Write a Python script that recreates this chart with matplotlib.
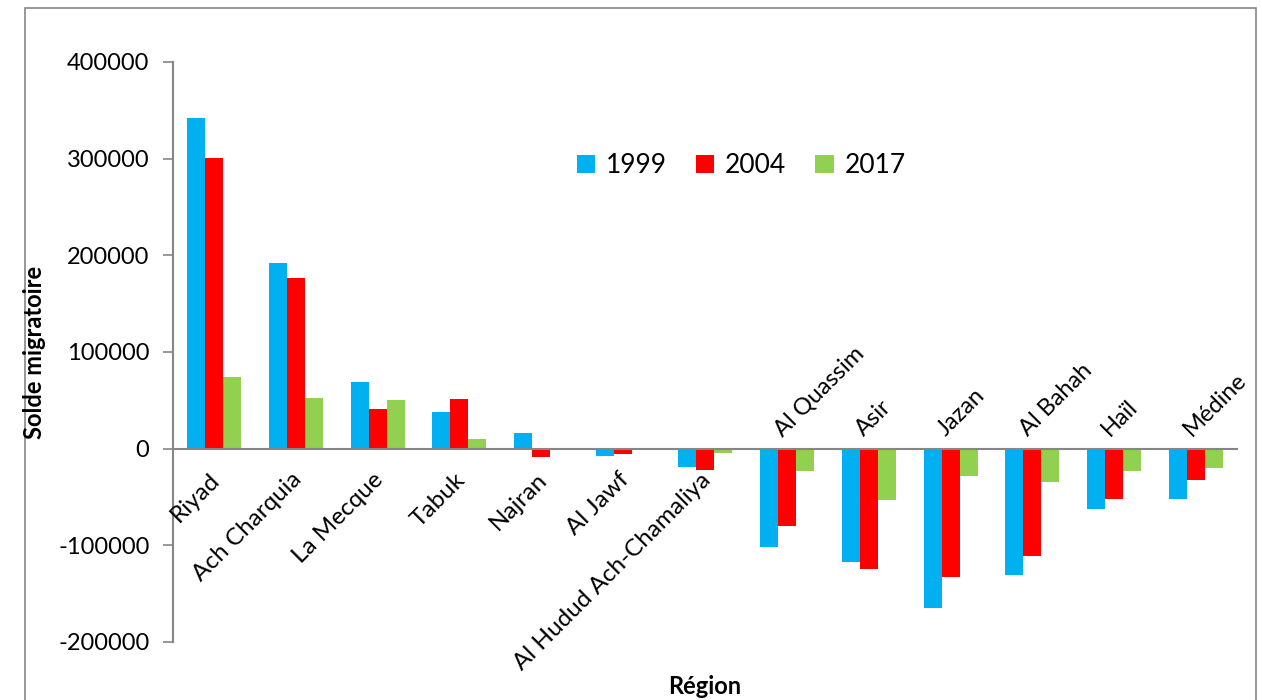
import numpy as np
import matplotlib.pyplot as plt
from matplotlib.patches import Rectangle

plt.rcParams['font.family'] = ['Lato', 'DejaVu Sans']
plt.rcParams['axes.unicode_minus'] = False

regions = ["Riyad", "Ach Charquia", "La Mecque", "Tabuk", "Najran", "Al Jawf",
           "Al Hudud Ach-Chamaliya", "Al Quassim", "Asir", "Jazan", "Al Bahah",
           "Haïl", "Médine"]
v1999 = [342000, 192000, 69000, 38000, 16500, -7200, -18600,
         -101300, -117100, -165000, -130900, -62400, -52000]
v2004 = [301000, 176500, 41300, 51500, -8300, -5200, -21700,
         -80300, -124400, -132300, -110600, -52000, -32000]
v2017 = [74500, 52500, 50500, 10000, 0, 0, -4100,
         -23400, -52700, -27900, -34500, -23100, -19600]

colors = ["#00B0F0", "#FF0000", "#92D050"]
years = ["1999", "2004", "2017"]

fig = plt.figure(figsize=(12.62, 7), dpi=100)
ax = fig.add_axes([173/1262, 58/700, (1237-173)/1262, (642-62)/700])

x = np.arange(len(regions))
w = 0.22
for i, (vals, c, lab) in enumerate(zip([v1999, v2004, v2017], colors, years)):
    ax.bar(x + (i - 1) * w, vals, w, color=c, label=lab)

ax.set_xlim(-0.5, len(regions) - 0.5)
ax.set_ylim(-200000, 400000)
ax.set_yticks(np.arange(-200000, 400001, 100000))
ax.tick_params(axis='y', labelsize=17, direction='out', length=7, width=1.2,
               color='#868686', pad=10)
ax.set_xticks([])
for s in ['top', 'right']:
    ax.spines[s].set_visible(False)
ax.spines['left'].set_color('#868686')
ax.spines['left'].set_linewidth(1.5)
ax.spines['bottom'].set_position(('data', 0))
ax.spines['bottom'].set_color('#868686')
ax.spines['bottom'].set_linewidth(1.5)

# labels below the zero line for the first groups, above it for the others
for xi, name, v in zip(x, regions, v1999):
    if v > 0 or name in ("Al Jawf", "Al Hudud Ach-Chamaliya"):
        ax.text(xi - 0.06, -21000, name, rotation=45, ha='right', va='top',
                rotation_mode='anchor', fontsize=17.5)
    else:
        ax.text(xi - 0.02, 9000, name, rotation=45, ha='left', va='bottom',
                rotation_mode='anchor', fontsize=17)

ax.legend(loc='center', bbox_to_anchor=(0.534, 0.821), ncol=3, frameon=False,
          fontsize=19, handlelength=0.7, handleheight=0.7, columnspacing=1.1,
          handletextpad=0.4)

fig.text(35/1262, 1 - 352/700, "Solde migratoire", rotation=90, ha='center',
         va='center', fontsize=17, fontweight='bold')
fig.text(705/1262, 1 - 686/700, "Région", ha='center', va='center',
         fontsize=17, fontweight='bold')

fig.patches.append(Rectangle((25/1262, -0.05), (1256-25)/1262, 1.05 - 8/700,
                             transform=fig.transFigure, fill=False,
                             edgecolor='#868686', linewidth=1.2))

fig.savefig("out.png", dpi=100)
